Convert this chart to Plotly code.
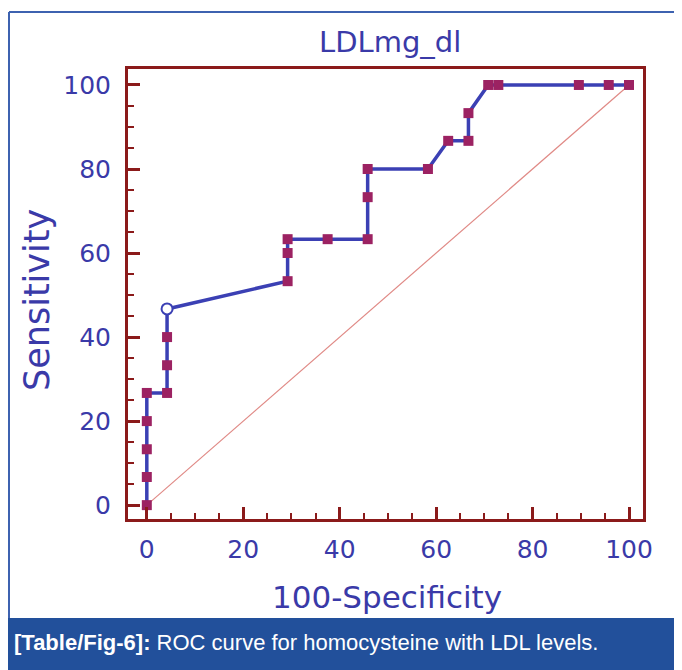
import plotly.graph_objects as go

# ---- data ----
fpr = [0, 0, 0, 0, 0, 4.2, 4.2, 4.2, 4.2, 29.2, 29.2, 29.2, 37.5, 45.8, 45.8, 45.8,
       58.3, 62.5, 66.7, 66.7, 70.8, 72.9, 89.6, 95.8, 100]
tpr = [0, 6.7, 13.3, 20, 26.7, 26.7, 33.3, 40, 46.7, 53.3, 60, 63.3, 63.3, 63.3, 73.3, 80,
       80, 86.7, 86.7, 93.3, 100, 100, 100, 100, 100]
criterion_index = 8          # open-circle point (optimal criterion)
diag_x = [0, 100]
diag_y = [0, 100]
tick_vals = [0, 20, 40, 60, 80, 100]

title_text = "LDLmg_dl"
x_title = "100-Specificity"
y_title = "Sensitivity"
caption_bold = "[Table/Fig-6]:"
caption_rest = " ROC curve for homocysteine with LDL levels."

# ---- layout geometry (screen pixels; page body has an 8px offset) ----
OFF = 8
W, H = 682 - OFF, 670 - OFF
L, R, T, B = 128, 643, 69, 519   # plot frame in screen pixels
pw, ph = R - L, B - T

def px(x):
    return (x - L) / pw

def py(y):
    return (B - y) / ph

FRAME = "#8b1a1a"
BLUE_TXT = "#3a3aa8"
LINE_BLUE = "#3b40b4"
MARK = "#9c2262"
FONT = "DejaVu Sans"

fig = go.Figure()
fig.add_trace(go.Scatter(x=diag_x, y=diag_y, mode="lines",
                         line=dict(color="#e08a86", width=1.2), hoverinfo="skip"))
sq_x = [v for i, v in enumerate(fpr) if i != criterion_index]
sq_y = [v for i, v in enumerate(tpr) if i != criterion_index]
fig.add_trace(go.Scatter(x=fpr, y=tpr, mode="lines",
                         line=dict(color=LINE_BLUE, width=3.5)))
fig.add_trace(go.Scatter(x=sq_x, y=sq_y, mode="markers",
                         marker=dict(symbol="square", size=10, color=MARK,
                                     line=dict(width=0))))
fig.add_trace(go.Scatter(x=[fpr[criterion_index]], y=[tpr[criterion_index]], mode="markers",
                         marker=dict(symbol="circle", size=11, color="white",
                                     line=dict(color=LINE_BLUE, width=2))))

axis_common = dict(
    tickvals=tick_vals, ticks="inside", ticklen=12, tickwidth=2.5, tickcolor=FRAME,
    showline=True, linecolor=FRAME, linewidth=3, mirror=True,
    showgrid=False, zeroline=False,
    tickfont=dict(family=FONT, size=25, color=BLUE_TXT),
    minor=dict(dtick=5, tick0=0, ticks="inside", ticklen=6, tickwidth=2, tickcolor=FRAME),
)
fig.update_xaxes(range=[-3.9, 102.9], ticklabelstandoff=6, **axis_common)
fig.update_yaxes(range=[-3.3, 103.8], ticklabelstandoff=9, **axis_common)

BORDER = "#3d62b0"
shapes = [
    # outer thin blue border (left and top)
    dict(type="line", xref="paper", yref="paper", x0=px(9), x1=px(9), y0=py(12), y1=py(618),
         line=dict(color=BORDER, width=2)),
    dict(type="line", xref="paper", yref="paper", x0=px(9), x1=px(690), y0=py(12), y1=py(12),
         line=dict(color=BORDER, width=2)),
    # caption box
    dict(type="rect", xref="paper", yref="paper", x0=px(7), x1=px(690), y0=py(618), y1=py(680),
         fillcolor="#22509b", line=dict(width=0), layer="below"),
]

annotations = [
    dict(text=title_text, x=px(390), y=py(42), xref="paper", yref="paper",
         xanchor="center", yanchor="middle",
         showarrow=False, font=dict(family=FONT, size=29, color=BLUE_TXT)),
    dict(text=x_title, x=px(387), y=py(597), xref="paper", yref="paper",
         xanchor="center", yanchor="middle",
         showarrow=False, font=dict(family=FONT, size=31, color=BLUE_TXT)),
    dict(text=y_title, x=px(37), y=py(300), xref="paper", yref="paper", textangle=-90,
         xanchor="center", yanchor="middle",
         showarrow=False, font=dict(family=FONT, size=35, color=BLUE_TXT)),
    dict(text="<b>" + caption_bold + "</b>" + caption_rest, x=px(12), y=py(642),
         xref="paper", yref="paper", xanchor="left", yanchor="middle", showarrow=False,
         font=dict(family="Liberation Sans", size=22, color="white")),
]

fig.update_layout(
    width=W, height=H,
    margin=dict(l=L - OFF, r=(W + OFF) - R, t=T - OFF, b=(H + OFF) - B),
    paper_bgcolor="white", plot_bgcolor="white",
    showlegend=False, shapes=shapes, annotations=annotations,
)

fig.write_html("out.html")
